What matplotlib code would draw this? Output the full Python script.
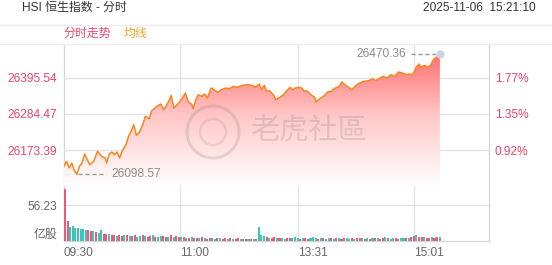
import matplotlib.pyplot as plt
import numpy as np
from matplotlib.colors import LinearSegmentedColormap
from matplotlib.lines import Line2D
from matplotlib.patches import Circle, Polygon

plt.rcParams['font.family'] = ['Liberation Sans', 'Noto Sans CJK SC']

# 分时: 自 09:30 起的交易分钟 (午休不计) 与指数点位
minute = [0, 2, 4, 6, 8, 10, 12, 14, 16, 18, 20, 23, 26, 29, 32, 33, 35, 37, 39, 41,
          43, 45, 48, 50, 53, 54, 56, 58, 61, 63, 66, 68, 72, 75, 77, 79, 81, 83, 85, 88,
          90, 92, 94, 96, 99, 100, 102, 104, 107, 109, 111, 114, 116, 119, 122, 125, 128, 131, 134, 138,
          142, 146, 148, 151, 153, 155, 157, 159, 162, 164, 167, 170, 172, 175, 177, 179, 182, 184, 186, 188,
          191, 194, 195, 198, 201, 204, 207, 209, 213, 215, 218, 221, 223, 226, 229, 232, 236, 239, 241, 244,
          247, 250, 253, 256, 259, 262, 265, 267, 270, 273, 275, 276, 279, 282, 284, 286, 289, 291]
price = [26123.1, 26138.5, 26117.9, 26133.3, 26109.7, 26098.57, 26123.1, 26133.3, 26161.1, 26143.6,
         26128.2, 26138.5, 26169.3, 26153.9, 26148.8, 26133.3, 26161.1, 26167.3, 26159.0, 26167.3,
         26148.8, 26169.3, 26189.9, 26215.6, 26241.3, 26251.6, 26218.7, 26225.9, 26251.6, 26277.3,
         26270.1, 26294.8, 26308.1, 26315.3, 26297.9, 26308.1, 26323.6, 26342.1, 26303.0, 26315.3,
         26323.6, 26335.9, 26349.3, 26323.6, 26313.3, 26300.9, 26328.7, 26344.1, 26339.0, 26346.2,
         26333.9, 26364.7, 26359.6, 26351.3, 26359.6, 26364.7, 26362.6, 26369.8, 26366.8, 26372.9,
         26375.0, 26372.9, 26366.8, 26377.0, 26359.6, 26372.9, 26354.4, 26356.5, 26344.1, 26328.7,
         26335.9, 26344.1, 26354.4, 26366.8, 26359.6, 26364.7, 26366.8, 26364.7, 26354.4, 26356.5,
         26344.1, 26335.9, 26321.5, 26331.8, 26339.0, 26352.4, 26354.4, 26362.6, 26369.8, 26383.2,
         26372.9, 26364.7, 26359.6, 26372.9, 26380.1, 26385.3, 26387.3, 26393.5, 26387.3, 26393.5,
         26400.7, 26395.6, 26405.8, 26400.7, 26414.1, 26411.0, 26405.8, 26407.9, 26405.8, 26431.5,
         26438.7, 26428.5, 26434.6, 26428.5, 26436.7, 26452.1, 26462.4, 26470.36]

# 成交量 (亿股), 每两分钟一根
volume = [80.8, 31.5, 22.0, 23.5, 20.0, 21.0, 18.5, 19.5, 17.0, 16.5,
          15.0, 15.5, 13.5, 12.0, 17.5, 11.0, 10.5, 11.5, 9.5, 10.0,
          8.5, 9.5, 8.0, 10.0, 9.0, 7.5, 8.5, 9.5, 7.0, 8.0,
          9.0, 7.5, 6.5, 8.0, 9.5, 7.0, 6.0, 7.5, 8.5, 6.5,
          7.0, 10.0, 6.0, 7.5, 6.5, 5.5, 6.0, 5.0, 4.5, 5.5,
          4.0, 5.0, 4.5, 6.0, 4.0, 3.5, 5.0, 4.5, 3.5, 4.0,
          5.0, 3.5, 4.0, 3.0, 4.5, 3.5, 3.0, 4.0, 2.5, 3.0,
          3.5, 2.5, 3.0, 2.5, 3.0, 22.0, 9.0, 8.0, 6.0, 5.0,
          4.5, 5.5, 4.0, 5.0, 4.5, 3.5, 5.0, 4.0, 4.5, 6.0,
          4.0, 3.5, 5.0, 4.5, 3.0, 4.0, 5.5, 4.0, 3.5, 4.5,
          5.0, 3.5, 4.0, 4.5, 3.0, 5.0, 4.0, 3.5, 4.5, 4.0,
          3.0, 4.0, 3.5, 4.5, 5.0, 4.0, 3.5, 4.5, 3.0, 4.0,
          5.0, 4.5, 3.5, 4.0, 5.5, 4.0, 3.5, 4.5, 4.0, 3.5,
          4.5, 5.0, 4.0, 4.5, 5.5, 7.5, 9.0, 6.5, 5.5, 6.0,
          5.0, 4.5, 6.5, 5.0, 7.0, 5.5]
# r = 涨, g = 跌
vol_dir = ("rrgggggggr" "rgrggrrgrr" "grrgrgrrgg" "rgrrgrggrr" "grgrrgrgrg"
           "rrgrgrrggr" "grrgrgrrgr" "rgrgrgggrg" "rrgrggrrgg" "grgrrgggrg"
           "rggrgrgrrg" "grgrrgrgrg" "rgrrgrggrr" "ggrgrrgrrg" "rrgrrg")

price_ticks = [26395.54, 26284.47, 26173.39]
pct_labels = ['1.77%', '1.35%', '0.92%']
vol_tick = 56.23
time_labels = ['09:30', '11:00', '13:31', '15:01']

RED = '#e8436a'
GRAY = '#666666'
W, H = 552, 265


def to_min(t):
    h, m = map(int, t.split(':'))
    v = h * 60 + m
    if v >= 13 * 60:
        return 150 + v - 13 * 60
    return v - (9 * 60 + 30)


def rect(x0, y0, x1, y1):
    return [x0 / W, 1 - y1 / H, (x1 - x0) / W, (y1 - y0) / H]


fig = plt.figure(figsize=(W / 100, H / 100), dpi=100)
fig.patch.set_facecolor('white')

fig.text(22 / W, 1 - 8 / H, 'HSI 恒生指数 - 分时', fontsize=8.6, color='#333333', va='center')
fig.text(536 / W, 1 - 8 / H, '2025-11-06  15:21:10', fontsize=8.6, color='#333333',
         va='center', ha='right')
fig.text(64 / W, 1 - 34 / H, '分时走势', fontsize=8.6, color='#f0446a', va='center')
fig.text(124 / W, 1 - 34 / H, '均线', fontsize=8.6, color='#f5a623', va='center')
for yy in (25, 44):
    fig.add_artist(Line2D([0, 1], [1 - yy / H] * 2, color='#ececec', lw=1))

xmax = 329
grid_c = '#e2e2e2'

# 边框和竖网格
ax_bg = fig.add_axes(rect(64, 44, 489, 241))
ax_bg.set_xlim(0, xmax)
ax_bg.set_xticks([])
ax_bg.set_yticks([])
ax_bg.spines['top'].set_visible(False)
for s in ('left', 'right', 'bottom'):
    ax_bg.spines[s].set_color('#d6d6d6')
    ax_bg.spines[s].set_linewidth(0.9)
for t in time_labels[1:]:
    ax_bg.axvline(to_min(t), color=grid_c, lw=0.9)

# 价格
step = price_ticks[0] - price_ticks[1]
ylo = price_ticks[1] - step * 72 / 36
yhi = price_ticks[1] + step * 70 / 36
ax_p = fig.add_axes(rect(64, 44, 489, 186))
ax_p.patch.set_alpha(0)
for yv in price_ticks:
    ax_p.axhline(yv, color=grid_c, lw=0.9, zorder=0)

cmap = LinearSegmentedColormap.from_list('fade', ['#ffffff', '#ffc6c6', '#ff6262'])
grad = np.linspace(0, 1, 256).reshape(-1, 1)
im = ax_p.imshow(grad, cmap=cmap, extent=[minute[0], minute[-1], ylo, yhi],
                 origin='lower', aspect='auto', zorder=1)
verts = np.column_stack([minute + [minute[-1], minute[0]], price + [ylo, ylo]])
poly = Polygon(verts, closed=True, facecolor='none', edgecolor='none')
ax_p.add_patch(poly)
im.set_clip_path(poly)
ax_p.plot(minute, price, color='#f7861f', lw=1.1, zorder=3)

i_hi = int(np.argmax(price))
i_lo = int(np.argmin(price))
m_hi, p_hi = minute[i_hi], price[i_hi]
m_lo, p_lo = minute[i_lo], price[i_lo]
ax_p.plot([m_hi - 22, m_hi - 1.5], [p_hi, p_hi], ls=(0, (3, 2)), color='#999999', lw=1, zorder=3)
ax_p.text(m_hi - 26.5, p_hi, f'{p_hi:.2f}', ha='right', va='center', fontsize=8.6, color='#8c8c8c')
ax_p.plot(m_hi, p_hi, 'o', ms=5, color='#cbd4e6', zorder=4)
ax_p.plot([m_lo + 0.5, m_lo + 22.5], [p_lo, p_lo], ls=(0, (3, 2)), color='#999999', lw=1, zorder=3)
ax_p.text(m_lo + 27, p_lo, f'{p_lo:.2f}', ha='left', va='center', fontsize=8.6, color='#8c8c8c')

ax_p.set_xlim(0, xmax)
ax_p.set_ylim(ylo, yhi)
ax_p.set_xticks([])
ax_p.set_yticks(price_ticks)
ax_p.set_yticklabels([f'{v:.2f}' for v in price_ticks])
ax_p.tick_params(axis='y', length=0, pad=5, labelsize=8.6, labelcolor=RED)
for s in ax_p.spines.values():
    s.set_visible(False)

ax_r = ax_p.twinx()
ax_r.set_ylim(ylo, yhi)
ax_r.set_yticks(price_ticks)
ax_r.set_yticklabels(pct_labels)
ax_r.tick_params(axis='y', length=0, pad=4.3, labelsize=8.6, labelcolor=RED)
for s in ax_r.spines.values():
    s.set_visible(False)

# 水印
fig.text(308 / W, 1 - 131 / H, '老虎社區', fontsize=21, color='#777777', alpha=0.22,
         ha='center', va='center', family=['Noto Sans CJK TC', 'DejaVu Sans'])
fig.add_artist(Circle((2.13, (H - 132) / 100), 0.26, transform=fig.dpi_scale_trans,
                      fill=False, lw=2.2, ec='#777777', alpha=0.2))
fig.add_artist(Circle((2.13, (H - 132) / 100), 0.13, transform=fig.dpi_scale_trans,
                      fill=False, lw=1.8, ec='#777777', alpha=0.15))

# 成交量
ax_v = fig.add_axes(rect(64, 186, 489, 241))
ax_v.patch.set_alpha(0)
vol_x = np.arange(len(volume)) * 2
colors = ['#f0587a' if d == 'r' else '#3cc6b6' for d in vol_dir]
ax_v.axhline(vol_tick, color=grid_c, lw=0.9, zorder=0)
ax_v.bar(vol_x, volume, width=1.6, align='edge', color=colors, lw=0, zorder=2)
ax_v.set_xlim(0, xmax)
ax_v.set_ylim(0, vol_tick * 55 / 36)
ax_v.set_yticks([0, vol_tick])
ax_v.set_yticklabels(['亿股', f'{vol_tick:.2f}'])
ax_v.get_yticklabels()[0].set_va('bottom')
ax_v.tick_params(axis='y', length=0, pad=5, labelsize=8.6, labelcolor=GRAY)
ax_v.set_xticks([to_min(t) for t in time_labels])
ax_v.set_xticklabels(time_labels)
for lab in ax_v.get_xticklabels():
    lab.set_ha('left')
ax_v.tick_params(axis='x', length=0, pad=4.5, labelsize=8.6, labelcolor=GRAY)
for s in ax_v.spines.values():
    s.set_visible(False)

fig.savefig('out.png', dpi=100, facecolor='white')
